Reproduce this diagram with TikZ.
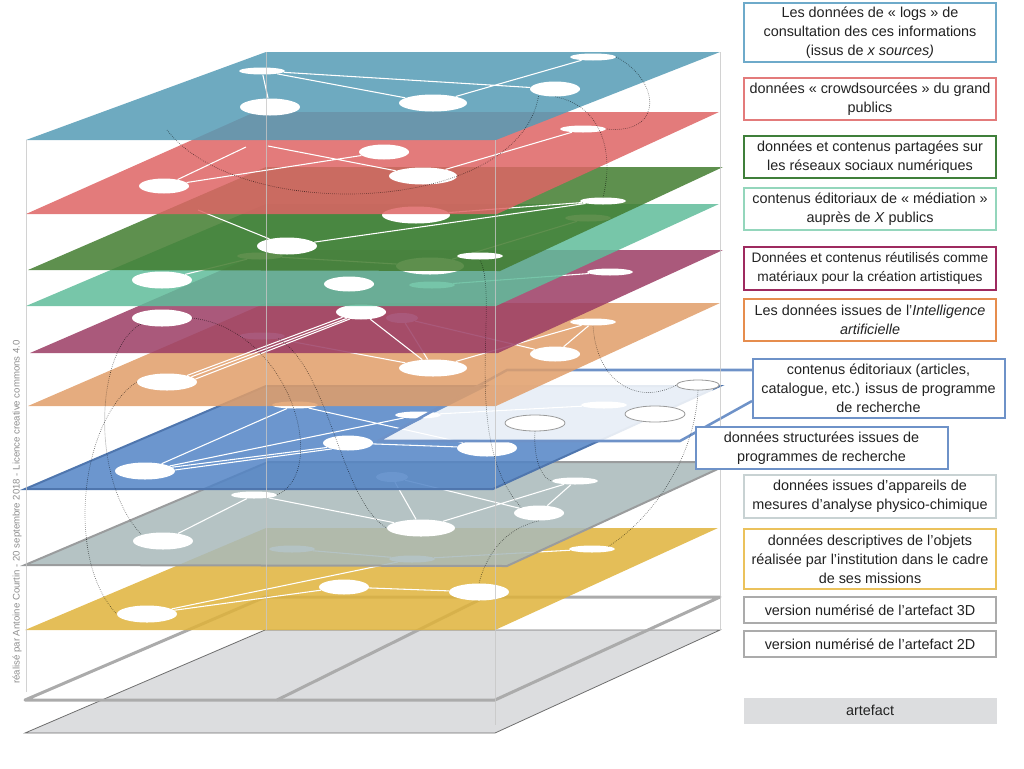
\documentclass[tikz,border=0pt]{standalone}
\usepackage{fontspec}
\setmainfont{Liberation Sans}
\usepackage{xcolor}
\definecolor{cLogs}{HTML}{559BB5}
\definecolor{cLogsLine}{HTML}{6EAACA}
\definecolor{cCrowd}{HTML}{DE6464}
\definecolor{cCrowdLine}{HTML}{E37B7B}
\definecolor{cSocial}{HTML}{427C2F}
\definecolor{cSocialLine}{HTML}{3F7F3A}
\definecolor{cMedia}{HTML}{5FBC9A}
\definecolor{cMediaLine}{HTML}{94D6BC}
\definecolor{cArt}{HTML}{9B3C64}
\definecolor{cArtLine}{HTML}{9E2A5F}
\definecolor{cIA}{HTML}{E19E69}
\definecolor{cIALine}{HTML}{E68D4E}
\definecolor{cProg}{HTML}{5284C6}
\definecolor{cProgLine}{HTML}{4F76AE}
\definecolor{cEditLine}{HTML}{6E92C8}
\definecolor{cMesure}{HTML}{A8B9BA}
\definecolor{cMesureLine}{HTML}{9A9C9D}
\definecolor{cMesureBox}{HTML}{C8D2D3}
\definecolor{cDesc}{HTML}{DFB33B}
\definecolor{cDescLine}{HTML}{EBC25C}
\definecolor{c3D}{HTML}{ABABAB}
\definecolor{cArtefact}{HTML}{DCDDDF}
\definecolor{cArtefactLine}{HTML}{6E6E6E}
\definecolor{cRing}{HTML}{9A9A9A}
\definecolor{cText}{HTML}{222222}
\definecolor{cCredit}{HTML}{8C8C8C}
\usepackage{tikz}
\usetikzlibrary{positioning,shapes.geometric}
\tikzset{
  plane/.style={fill=#1,fill opacity=.85},
  outline-3d/.style={draw=c3D,line width=2.25pt,line join=round},
  node-xs/.style={ellipse,fill=white,inner sep=0pt,minimum width=24pt,minimum height=7.5pt},
  node-s/.style={ellipse,fill=white,inner sep=0pt,minimum width=34.5pt,minimum height=5.25pt},
  node-m/.style={ellipse,fill=white,inner sep=0pt,minimum width=37.5pt,minimum height=11.25pt},
  node-l/.style={ellipse,fill=white,inner sep=0pt,minimum width=45pt,minimum height=12.75pt},
  node-xl/.style={ellipse,fill=white,inner sep=0pt,minimum width=51pt,minimum height=12.75pt},
  node-ring/.style={ellipse,fill=white,draw=cRing,line width=.6pt,inner sep=0pt,
    minimum width=45pt,minimum height=12pt},
  link/.style={draw=white,line width=.8pt},
  link-dot/.style={draw=black,densely dotted,line width=.5pt,opacity=.6},
  frame-edit/.style={draw=cEditLine,line width=1.9pt,line join=round},
  cube-edge/.style={draw=black!22,line width=.75pt,opacity=.8},
  legend-box/.style={draw=#1,line width=1.5pt,fill=white,align=center,
    minimum width=189pt,inner sep=0pt,text=cText,
    font=\fontsize{10.8pt}{14.3pt}\selectfont},
  credit/.style={text=cCredit,font=\fontsize{7.2pt}{8pt}\selectfont,inner sep=0pt},
}
\begin{document}
\begin{tikzpicture}[x=0.75pt,y=-0.75pt]
  \useasboundingbox (0,0) rectangle (1024,768);

  % artefact et version 3D
  \filldraw[fill=cArtefact,draw=cArtefactLine,line width=.6pt]
    (25,733) -- (495,733) -- (720,630) -- (265,630) -- cycle;
  \draw[outline-3d] (25,700) -- (495,700) -- (720,597) -- (265,597) -- cycle;
  \draw[outline-3d] (277,700) -- (485,597);

  % donnees descriptives
  \fill[plane=cDesc] (25,630) -- (495,630) -- (718,528) -- (266,528) -- cycle;
  \node[node-l] (ds1) at (147,614) {};
  \node[node-m] (ds2) at (344,587) {};
  \node[node-l] (ds3) at (479,592) {};
  \node[node-s] (ds4) at (292,549) {};
  \node[node-s] (ds5) at (412,559) {};
  \node[node-s] (ds6) at (592,549) {};
  \draw[link] (ds1) -- (ds2) (ds1) -- (ds5) (ds2) -- (ds3)
    (ds4) -- (ds5) (ds5) -- (ds6);

  % mesures physico-chimiques
  \filldraw[plane=cMesure,draw=cMesureLine,line width=1.5pt]
    (25,565) -- (507,566) -- (733,462) -- (268,462) -- cycle;
  \node[node-s]  (ms1) at (254,495) {};
  \node[node-l]  (ms2) at (163,541) {};
  \node[node-xl] (ms3) at (421,528) {};
  \node[node-m]  (ms4) at (539,513) {};
  \node[node-s]  (ms5) at (575,481) {};
  \node[node-xs] (ms6) at (392,477) {};
  \draw[link] (ms1) -- (ms2) (ms1) -- (ms3) (ms6) -- (ms3) (ms6) -- (ms4)
    (ms3) -- (ms5) (ms4) -- (ms5);

  % donnees structurees
  \filldraw[plane=cProg,draw=cProgLine,line width=1.5pt]
    (25,489) -- (493,489) -- (720,386) -- (266,386) -- cycle;
  \node[node-l] (pg1) at (145,471) {};
  \node[node-m] (pg2) at (348,443) {};
  \node[node-s] (pg3) at (295,405) {};
  \node[node-s] (pg4) at (418,415) {};
  \node[node-l] (pg5) at (487,448) {};
  \draw[link] (pg1) -- (pg3) (pg1.8) -- (pg2.192) (pg1.2) -- (pg2.200)
    (pg1) -- (pg4) (pg3) -- (pg5) (pg2) -- (pg5);

  % contenus editoriaux
  \coordinate (ed-bl) at (378,441);
  \coordinate (ed-br) at (680,441);
  \coordinate (ed-tr) at (716,385);
  \coordinate (ed-tl) at (490,385);
  \coordinate (fr-tl) at (507,370);
  \coordinate (fr-tr) at (752,370);
  \coordinate (fr-br) at (752,401);
  \fill[plane=white] (ed-bl) -- (ed-br) -- (ed-tr) -- (ed-tl) -- cycle;
  \draw[frame-edit] (fr-tr) -- (fr-tl) -- (ed-bl) -- (ed-br) -- (fr-br);
  \node[node-ring] (ed1) at (535,423) {};
  \node[node-ring] (ed2) at (655,414) {};
  \node[node-ring,minimum width=32pt,minimum height=7.5pt] (ed3) at (698,385) {};
  \node[node-s] (ed4) at (604,405) {};
  \draw[link] (pg4) -- (ed4);

  % intelligence artificielle
  \fill[plane=cIA] (28,406) -- (496,406) -- (720,303) -- (266,303) -- cycle;
  \node[node-l]  (ia1) at (167,382) {};
  \node[node-xl] (ia2) at (433,368) {};
  \node[node-m]  (ia3) at (555,354) {};
  \node[node-s]  (ia4) at (593,322) {};
  \node[node-xs] (ia5) at (402,318) {};
  \node[node-s]  (ia6) at (262,336) {};
  \draw[link] (ia6) -- (ia2) (ia5) -- (ia2) (ia5) -- (ia3)
    (ia2) -- (ia4) (ia3) -- (ia4);

  % creation artistique
  \fill[plane=cArt] (30,353) -- (498,353) -- (723,250) -- (268,250) -- cycle;
  \node[node-l] (pr1) at (162,318) {};
  \node[node-s] (pr2) at (432,285) {};
  \node[node-s] (pr3) at (610,272) {};
  \node[node-m] (pr4) at (361,312) {};
  \draw[link] (pr2) -- (pr3) (pr4) -- (ia2)
    (ia1.18) -- (pr4.196) (ia1.12) -- (pr4.204) (ia1.6) -- (pr4.212);

  % mediation
  \fill[plane=cMedia] (26,306) -- (496,306) -- (719,204) -- (266,204) -- cycle;
  \node[node-l]  (md1) at (162,280) {};
  \node[node-m]  (md2) at (349,284) {};
  \node[node-xl] (md3) at (430,266) {};
  \node[node-s]  (md4) at (260,256) {};
  \node[node-s]  (md5) at (588,218) {};
  \draw[link] (md1) -- (md4) (md4) -- (md3) (md3) -- (md5);

  % reseaux sociaux
  \fill[plane=cSocial] (28,270) -- (500,271) -- (723,167) -- (266,167) -- cycle;
  \coordinate (so-a) at (198,210);
  \node[node-xl] (so1) at (416,215) {};
  \node[node-l]  (so2) at (287,246) {};
  \node[node-s]  (so3) at (603,201) {};
  \node[node-s]  (so4) at (480,256) {};
  \draw[link] (so-a) -- (so2) (so2) -- (so3) (so1) -- (so3);

  % crowdsourcing
  \fill[plane=cCrowd] (26,214) -- (497,214) -- (719,112) -- (255,112) -- cycle;
  \coordinate (cr-a) at (246,147);
  \coordinate (cr-b) at (268,146);
  \node[node-m]  (cr1) at (164,186) {};
  \node[node-m]  (cr2) at (384,152) {};
  \node[node-xl] (cr3) at (423,176) {};
  \node[node-s]  (cr4) at (583,129) {};
  \draw[link] (cr1) -- (cr-a) (cr-b) -- (cr3) (cr1) -- (cr2) (cr3) -- (cr4);

  % logs de consultation
  \fill[plane=cLogs] (26,140) -- (496,140) -- (720,52) -- (266,52) -- cycle;
  \node[node-s]  (lg1) at (262,71) {};
  \node[node-l]  (lg2) at (270,107) {};
  \node[node-xl] (lg3) at (433,103) {};
  \node[node-s]  (lg4) at (593,57) {};
  \node[node-m]  (lg5) at (555,89) {};
  \draw[link] (lg1) -- (lg2) (lg1) -- (lg3) (lg1) -- (lg5) (lg3) -- (lg4);

  % liens entre couches
  \coordinate (dot-a) at (167,130);
  \draw[link-dot] (dot-a) .. controls (240,225) and (520,215) .. (lg5.200);
  \draw[link-dot] (lg4.east) .. controls (660,80) and (665,135) .. (cr4.east);
  \draw[link-dot] (lg5.south) .. controls (600,105) and (615,150) .. (so3.north);
  \draw[link-dot] (pr1.east) .. controls (290,330) and (330,470) .. (ms1.east);
  \draw[link-dot] (pr1.south west) .. controls (95,350) and (90,480) .. (ms2.north west);
  \draw[link-dot] (ia1.west) .. controls (80,420) and (65,560) .. (ds1.west);
  \draw[link-dot] (ia6.south east) .. controls (330,370) and (340,500) .. (ms3.west);
  \draw[link-dot] (so4.south) .. controls (500,300) and (460,440) .. (ms4.north west);
  \draw[link-dot] (ia4.south) .. controls (597,385) and (640,405) .. (ed3.west);
  \draw[link-dot] (ed1.south) .. controls (533,465) and (545,480) .. (ms5.west);
  \draw[link-dot] (ed3.south) .. controls (695,460) and (650,520) .. (ds6.north east);
  \draw[link-dot] (ms4.south) .. controls (500,530) and (485,560) .. (ds3.north);

  % aretes du cube
  \draw[cube-edge] (26,140) -- (26,692) (266,52) -- (266,630)
    (495,140) -- (495,725) (720,52) -- (720,630);

  % legende
  \node[legend-box=cLogsLine,minimum height=44.25pt] (lbl-logs) at (870,32.5)
    {Les données de « logs » de\\consultation des ces informations\\(issus de \textit{x sources)}};
  \node[legend-box=cCrowdLine,minimum height=31.5pt] (lbl-crowd) at (870,99)
    {données « crowdsourcées » du grand\\publics};
  \node[legend-box=cSocialLine,minimum height=31.5pt] (lbl-social) at (870,157)
    {données et contenus partagées sur\\les réseaux sociaux numériques};
  \node[legend-box=cMediaLine,minimum height=31.5pt] (lbl-media) at (870,209)
    {contenus éditoriaux de « médiation »\\auprès de \textit{X} publics};
  \node[legend-box=cArtLine,minimum height=32.25pt,
    font=\fontsize{10.3pt}{14.3pt}\selectfont] (lbl-art) at (870,268.5)
    {Données et contenus réutilisés comme\\matériaux pour la création artistiques};
  \node[legend-box=cIALine,minimum height=31.5pt] (lbl-ia) at (870,320)
    {Les données issues de l'\textit{Intelligence}\\\textit{artificielle}};
  \node[legend-box=cEditLine,minimum height=44.25pt] (lbl-edit) at (878.5,388.5)
    {contenus éditoriaux (articles,\\catalogue, etc.) issus de programme\\de recherche};
  \node[legend-box=cEditLine,minimum height=31.5pt] (lbl-prog) at (821.5,448)
    {données structurées issues de\\programmes de recherche};
  \node[legend-box=cMesureBox,minimum height=32.25pt] (lbl-mesure) at (870,496.5)
    {données issues d'appareils de\\mesures d'analyse physico-chimique};
  \node[legend-box=cDescLine,minimum height=45pt] (lbl-desc) at (870,559)
    {données descriptives de l'objets\\réalisée par l'institution dans le cadre\\de ses missions};
  \node[legend-box=c3D,minimum height=19.5pt] (lbl-3d) at (870,610)
    {version numérisé de l'artefact 3D};
  \node[legend-box=c3D,minimum height=19.5pt] (lbl-2d) at (870,644)
    {version numérisé de l'artefact 2D};
  \node[legend-box=cArtefact,fill=cArtefact,line width=0pt,minimum height=18.75pt]
    (lbl-artefact) at (870,710.5) {artefact};

  \node[credit,rotate=90] (credit) at (17,512)
    {réalisé par Antoine Courtin - 20 septembre 2018 - Licence creative commons 4.0};
\end{tikzpicture}
\end{document}
